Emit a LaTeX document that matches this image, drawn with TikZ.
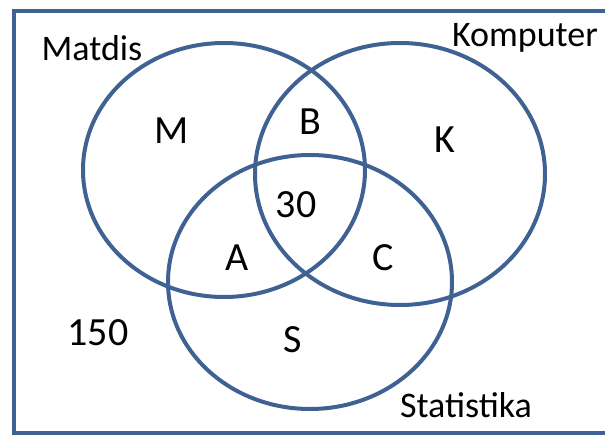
\documentclass[tikz,border=0pt]{standalone}
\usepackage{fontspec}
\setmainfont{Carlito}
\definecolor{vblue}{HTML}{3F6293}
\tikzset{
  setline/.style={draw=vblue, line width=4pt},
  setname/.style={font=\fontsize{36}{40}\selectfont, inner sep=0pt},
  region/.style={font=\fontsize{40}{44}\selectfont, inner sep=0pt},
}
\begin{document}
\begin{tikzpicture}[x=1pt,y=-1pt]
\useasboundingbox (0,0) rectangle (605,435);
\clip (0,0) rectangle (605,435);
\draw[setline] (14,11) rectangle (640,433);
\draw[setline] (224,170) ellipse [x radius=141pt, y radius=127pt];
\draw[setline] (400,174) ellipse [x radius=145pt, y radius=131pt];
\draw[setline] (310,282) ellipse [x radius=142pt, y radius=127pt];
\node[setname] (matdis) at (92,48) {Matdis};
\node[setname] (komp) at (525,38) {Komputer};
\node[setname] (stat) at (466,405) {Statistika};
\node[region] (m) at (172,131) {M};
\node[region] (b) at (310,122) {B};
\node[region] (k) at (445,140) {K};
\node[region] (n30) at (296,205) {30};
\node[region] (a) at (237,258) {A};
\node[region] (c) at (383,258) {C};
\node[region] (n150) at (98,333) {150};
\node[region] (s) at (293,340) {S};
\end{tikzpicture}
\end{document}
